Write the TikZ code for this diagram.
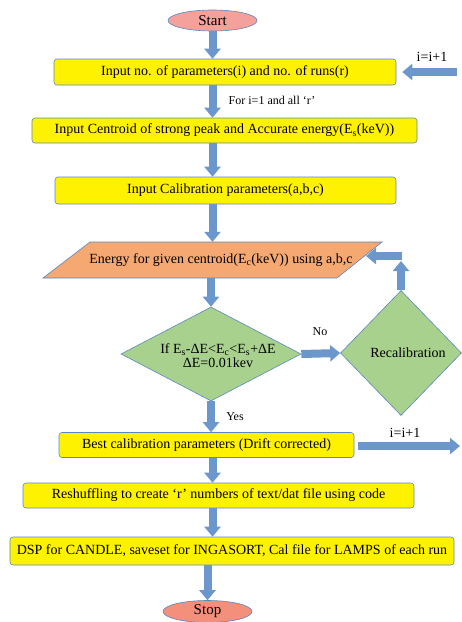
\documentclass[tikz,border=0pt]{standalone}
\usepackage{fontspec}
\setmainfont{Liberation Serif}
\usetikzlibrary{shapes.geometric,arrows.meta}
\definecolor{boxyellow}{HTML}{FFF200}
\definecolor{boxline}{HTML}{5B87C0}
\definecolor{arrowblue}{HTML}{6B97CD}
\definecolor{greenfill}{HTML}{A9D18E}
\definecolor{orangefill}{HTML}{F5A872}
\definecolor{startfill}{HTML}{F4A19C}
\definecolor{stopfill}{HTML}{F38F7B}
\newcommand{\fs}[1]{\fontsize{#1}{#1}\selectfont}
\begin{document}
\begin{tikzpicture}[x=1pt,y=-1pt,
  box/.style={draw=boxline, line width=0.6pt, fill=boxyellow, rounded corners=3pt, inner sep=0pt, font=\fs{14}},
  term/.style={ellipse, draw=boxline, line width=0.6pt, inner sep=0pt, minimum width=89pt, minimum height=21pt, font=\fs{15}},
  decide/.style={diamond, draw=boxline, line width=0.6pt, fill=greenfill, inner sep=0pt},
  flow/.style={line width=8pt, draw=arrowblue, -{Triangle[length=10pt,width=16pt]}},
  lbl/.style={inner sep=0pt}
]
\useasboundingbox (0,0) rectangle (462,622);

\node[term, fill=startfill] (start) at (212.5,20.5) {Start};
\node[box, minimum width=342pt, minimum height=26pt] (b1) at (225,72) {Input no. of parameters(i) and no. of runs(r)};
\node[box, minimum width=385pt, minimum height=25pt] (b2) at (224.5,130.5) {Input Centroid of strong peak and Accurate energy(E\textsubscript{s}(keV))};
\node[box, minimum width=341pt, minimum height=27pt] (b3) at (225.5,190.5) {Input Calibration parameters(a,b,c)};
\draw[fill=orangefill, draw=boxline, line width=0.6pt] (43,278) -- (90,242) -- (382,242) -- (337,278) -- cycle;
\node[lbl, minimum height=36pt, font=\fs{14}] (para) at (221,260) {Energy for given centroid(E\textsubscript{c}(keV)) using a,b,c};
\coordinate (pe) at (366,256);
\node[decide, minimum width=180pt, minimum height=94pt] (d1) at (211,354) {};
\node[lbl, align=center, font=\fs{14}] (d1t) at (218,356) {If E\textsubscript{s}-ΔE<E\textsubscript{c}<E\textsubscript{s}+ΔE\\ΔE=0.01kev};
\node[decide, minimum width=121pt, minimum height=125pt] (d2) at (401,353) {};
\node[lbl, font=\fs{14}] (d2t) at (408,353) {Recalibration};
\node[box, minimum width=295pt, minimum height=25pt] (b4) at (206.5,445) {Best calibration parameters (Drift corrected)};
\node[box, minimum width=391pt, minimum height=25pt] (b5) at (218.5,495.5) {Reshuffling to create ‘r’ numbers of text/dat file using code};
\node[box, minimum width=444pt, minimum height=28pt] (b6) at (232,551) {DSP for CANDLE, saveset for INGASORT, Cal file for LAMPS of each run};
\node[term, fill=stopfill, minimum height=22pt] (stop) at (207.5,611.5) {Stop};

\node[lbl, font=\fs{12}] (l1) at (272,100) {For i=1 and all ‘r’};
\node[lbl, font=\fs{12}] (lno) at (320,332) {No};
\node[lbl, font=\fs{12}] (lyes) at (235,417) {Yes};
\node[lbl, font=\fs{14}] (li1) at (432,57) {i=i+1};
\node[lbl, font=\fs{14}] (li2) at (405,433) {i=i+1};

\coordinate (in) at (457,72);
\coordinate (up) at (401,261);
\coordinate (rs) at (402,256);
\coordinate (out) at (460,446);

\draw[flow] (start.south) -- (start.south |- b1.north);
\draw[flow] (start.south |- b1.south) -- (start.south |- b2.north);
\draw[flow] (start.south |- b2.south) -- (start.south |- b3.north);
\draw[flow] (start.south |- b3.south) -- (start.south |- para.north);
\draw[flow] (d1.north |- para.south) -- (d1.north);
\draw[flow] (d1.east) -- (d2.west);
\draw[flow] (d2.north) -- (up);
\draw[flow] (rs) -- (pe);
\draw[flow] (d1.south) -- (d1.south |- b4.north);
\draw[flow, shorten <=4pt] (b4.east |- out) -- (out);
\draw[flow, shorten >=6pt] (in) -- (b1.east);
\draw[flow] (start.south |- b4.south) -- (start.south |- b5.north);
\draw[flow] (start.south |- b5.south) -- (start.south |- b6.north);
\draw[flow] (stop.north |- b6.south) -- (stop.north);
\end{tikzpicture}
\end{document}
